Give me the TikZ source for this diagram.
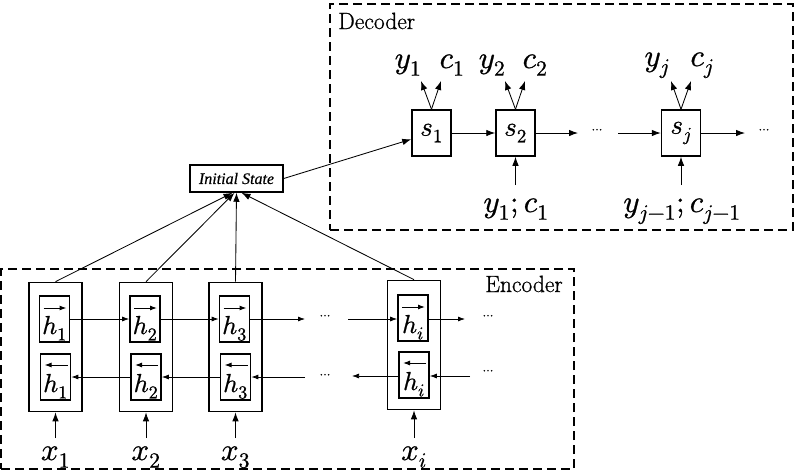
\documentclass[tikz,border=0pt]{standalone}
\usepackage{fontspec}
\usepackage{unicode-math}
\setmainfont{Latin Modern Roman}[FakeBold=0.8]
\setmathfont{Latin Modern Math}[FakeBold=0.8]
\newfontfamily\timesfont{Liberation Serif}[FakeBold=0.5]
\usetikzlibrary{arrows.meta}
\begin{document}
\begin{tikzpicture}[x=1pt,y=-1pt,
  cell/.style={draw, line width=1.7pt, minimum width=53pt, minimum height=129pt, inner sep=0pt},
  hbox/.style={draw, line width=1.7pt, minimum width=30pt, minimum height=46pt, inner sep=0pt,
    text height=30pt, text depth=0pt, font=\fontsize{26}{28}\selectfont},
  harr/.style={-{Latex[length=7pt,width=5pt]}, line width=1pt},
  sbox/.style={draw, line width=1.5pt, minimum width=39pt, minimum height=46pt, inner sep=0pt, font=\fontsize{27}{29}\selectfont},
  group/.style={draw, dash pattern=on 9pt off 5pt, line width=1.7pt},
  arr/.style={-{Latex[length=7pt,width=5pt]}, line width=0.75pt},
  bigarr/.style={-{Latex[length=9pt,width=6.5pt]}, line width=0.85pt},
  lab/.style={font=\fontsize{31}{33}\selectfont, inner sep=0pt, anchor=base},
  xlab/.style={font=\fontsize{31}{33}\selectfont, inner sep=0pt, anchor=base},
  dotsn/.style={font=\fontsize{13}{14}\selectfont, inner sep=0pt},
  title/.style={font=\fontsize{23.5}{25}\selectfont, inner sep=0pt, anchor=base west}
]
\useasboundingbox (0,0) rectangle (798,472);
% groups
\node[group, minimum width=573pt, minimum height=200pt, inner sep=0pt] (enc) at (287.5,369) {};
\node[group, minimum width=463pt, minimum height=226pt, inner sep=0pt] (dec) at (561.5,117) {};
\node[title] (enctext) at (485,292) {Encoder};
\node[title] (dectext) at (338,29) {Decoder};
% encoder cells
\node[cell] (c1) at (55.5,347) {};
\node[cell] (c2) at (146,347) {};
\node[cell] (c3) at (235.5,347) {};
\node[cell] (ci) at (414,345) {};
\node[hbox] (f1) at (54.5,319) {$h_1$};
\node[hbox] (b1) at (55.5,377) {$h_1$};
\node[hbox] (f2) at (145,319) {$h_2$};
\node[hbox] (b2) at (146,377) {$h_2$};
\node[hbox] (f3) at (234.5,319) {$h_3$};
\node[hbox] (b3) at (235.5,377) {$h_3$};
\node[hbox] (fi) at (413,318) {$h_i$};
\node[hbox] (bi) at (414,375) {$h_i$};
% arrows over h
\foreach \n in {f1,f2,f3,fi}
  \draw[harr] ([xshift=-11pt,yshift=11pt]\n.center) -- ([xshift=12pt,yshift=11pt]\n.center);
\foreach \n in {b1,b2,b3,bi}
  \draw[harr] ([xshift=12pt,yshift=12pt]\n.center) -- ([xshift=-11pt,yshift=12pt]\n.center);
% forward chain
\draw[arr] (f1) -- (f2);
\draw[arr] (f2) -- (f3);
\coordinate (fa) at (305,319);
\draw[arr] (f3.east) -- (fa);
\node[dotsn] (fd1) at (325,317) {$\cdots$};
\coordinate (fb) at (348,319);
\draw[arr] (fb) -- (fb -| fi.west);
\coordinate (fc) at (465,319);
\draw[arr] (fi.east |- fc) -- (fc);
\node[dotsn] (fd2) at (488,317) {$\cdots$};
% backward chain
\coordinate (ba) at (470,376);
\draw[arr] (ba) -- (ba -| bi.east);
\node[dotsn] (bd2) at (488,372) {$\cdots$};
\coordinate (bb) at (352,376);
\draw[arr] (bi.west |- bb) -- (bb);
\node[dotsn] (bd1) at (325,376) {$\cdots$};
\coordinate (bc) at (305,377);
\draw[arr] (bc) -- (b3);
\draw[arr] (b3) -- (b2);
\draw[arr] (b2) -- (b1);
% inputs
\node[xlab] (x1) at (55.5,460) {$x_1$};
\node[xlab] (x2) at (146,460) {$x_2$};
\node[xlab] (x3) at (235.5,460) {$x_3$};
\node[xlab] (xi) at (414,460) {$x_i$};
\coordinate (x1t) at (55.5,438);
\coordinate (x2t) at (146,438);
\coordinate (x3t) at (235.5,438);
\coordinate (xit) at (414,438);
\draw[bigarr] (x1t) -- (c1.south);
\draw[bigarr] (x2t) -- (c2.south);
\draw[bigarr] (x3t) -- (c3.south);
\draw[bigarr] (xit) -- (ci.south);
% initial state
\node[draw, line width=1.5pt, minimum width=93pt, minimum height=27pt, inner sep=0pt,
  font=\timesfont\itshape\fontsize{16}{18}\selectfont] (init) at (236.5,178.5) {Initial State};
\draw[bigarr] (c1.north) -- ([xshift=-4pt]init.south);
\draw[bigarr] (c2.north) -- ([xshift=-2pt]init.south);
\draw[bigarr] (c3.north) -- ([xshift=0pt]init.south);
\draw[bigarr] (ci.north) -- ([xshift=5pt]init.south);
% decoder
\node[sbox] (s1) at (431.5,133) {$s_1$};
\node[sbox] (s2) at (515.5,133) {$s_2$};
\node[sbox] (sj) at (681,133) {$s_j$};
\draw[bigarr] (init.east) -- (s1);
\draw[bigarr] (s1) -- (s2);
\coordinate (da) at (578,133);
\draw[bigarr] (s2) -- (da);
\node[dotsn] (dd1) at (597,131) {$\cdots$};
\coordinate (db) at (618,133);
\draw[bigarr] (db) -- (sj);
\coordinate (dc) at (745,133);
\draw[bigarr] (sj) -- (dc);
\node[dotsn] (dd2) at (764,131) {$\cdots$};
% outputs
\node[lab] (y1o) at (408,68) {$y_1$};
\node[lab] (c1o) at (452,68) {$c_1$};
\node[lab] (y2o) at (492,68) {$y_2$};
\node[lab] (c2o) at (535,68) {$c_2$};
\node[lab] (yjo) at (657,66) {$y_j$};
\node[lab] (cjo) at (702,66) {$c_j$};
\coordinate (y1t) at (421,81);
\coordinate (c1t) at (441,81);
\coordinate (y2t) at (505,81);
\coordinate (c2t) at (525,81);
\coordinate (yjt) at (671,81);
\coordinate (cjt) at (691,81);
\draw[bigarr] (s1.north) -- (y1t);
\draw[bigarr] (s1.north) -- (c1t);
\draw[bigarr] (s2.north) -- (y2t);
\draw[bigarr] (s2.north) -- (c2t);
\draw[bigarr] (sj.north) -- (yjt);
\draw[bigarr] (sj.north) -- (cjt);
% decoder inputs
\node[lab] (in2) at (516,212) {$y_1;c_1$};
\node[lab] (inj) at (682,212) {$y_{j-1};c_{j-1}$};
\coordinate (in2t) at (515.5,185);
\coordinate (injt) at (681,185);
\draw[bigarr] (in2t) -- (s2.south);
\draw[bigarr] (injt) -- (sj.south);
\end{tikzpicture}
\end{document}
